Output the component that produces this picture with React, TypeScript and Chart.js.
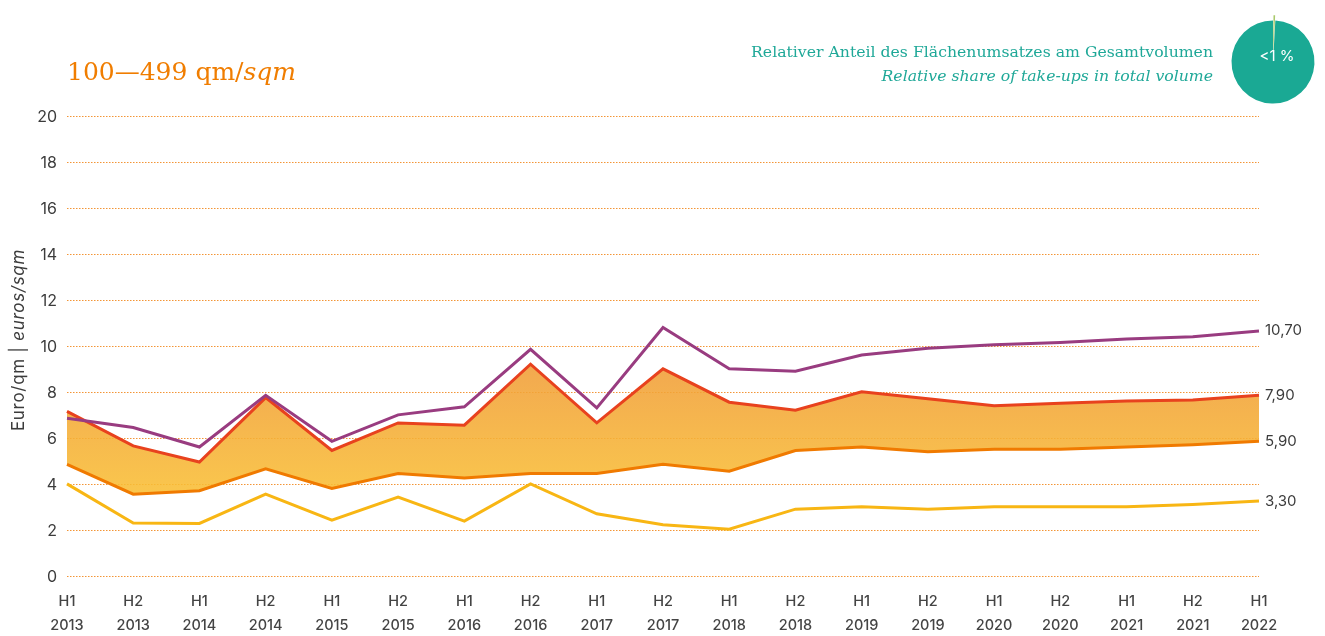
import React, { useEffect, useRef } from "react";
import { Chart, registerables } from "chart.js";

Chart.register(...registerables);

// ---- data ----
const halves = ["H1", "H2", "H1", "H2", "H1", "H2", "H1", "H2", "H1", "H2", "H1", "H2", "H1", "H2", "H1", "H2", "H1", "H2", "H1"];
const years = ["2013", "2013", "2014", "2014", "2015", "2015", "2016", "2016", "2017", "2017", "2018", "2018", "2019", "2019", "2020", "2020", "2021", "2021", "2022"];

const maxRent = [6.9, 6.5, 5.65, 7.9, 5.9, 7.05, 7.4, 9.9, 7.35, 10.85, 9.05, 8.95, 9.65, 9.95, 10.1, 10.2, 10.35, 10.45, 10.7];
const upperRent = [7.2, 5.7, 5.0, 7.8, 5.5, 6.7, 6.6, 9.25, 6.7, 9.05, 7.6, 7.25, 8.05, 7.75, 7.45, 7.55, 7.65, 7.7, 7.9];
const lowerRent = [4.9, 3.6, 3.75, 4.7, 3.85, 4.5, 4.3, 4.5, 4.5, 4.9, 4.6, 5.5, 5.65, 5.45, 5.55, 5.55, 5.65, 5.75, 5.9];
const minRent = [4.05, 2.35, 2.33, 3.6, 2.47, 3.47, 2.43, 4.05, 2.75, 2.27, 2.08, 2.95, 3.05, 2.95, 3.05, 3.05, 3.05, 3.15, 3.3];

const yTickValues = [0, 2, 4, 6, 8, 10, 12, 14, 16, 18, 20];
const endLabels = ["10,70", "7,90", "5,90", "3,30"];

const pieValues = [0.9, 99.1];
const pieLabel = "<1 %";

const SANS = "Inter, 'Noto Sans', sans-serif";
const SERIF = "'DejaVu Serif', serif";

const endLabelPlugin = {
  id: "endLabels",
  afterDatasetsDraw(chart: any) {
    const ctx = chart.ctx;
    ctx.save();
    ctx.font = `15px ${SANS}`;
    ctx.fillStyle = "#3c3c3c";
    ctx.textAlign = "left";
    ctx.textBaseline = "middle";
    chart.data.datasets.forEach((_ds: any, i: number) => {
      const meta = chart.getDatasetMeta(i);
      const pt = meta.data[meta.data.length - 1];
      if (pt) ctx.fillText(endLabels[i], pt.x + 6, pt.y);
    });
    ctx.restore();
  },
};

function bandFill(context: any) {
  const chart = context.chart;
  const area = chart.chartArea;
  if (!area) return "rgba(243,165,60,0.88)";
  const y = chart.scales.y;
  const g = chart.ctx.createLinearGradient(0, y.getPixelForValue(9.5), 0, y.getPixelForValue(3.5));
  g.addColorStop(0, "rgba(240,155,55,0.88)");
  g.addColorStop(1, "rgba(249,191,52,0.88)");
  return g;
}

export default function App() {
  const mainRef = useRef<HTMLCanvasElement | null>(null);
  const pieRef = useRef<HTMLCanvasElement | null>(null);

  useEffect(() => {
    if (!mainRef.current || !pieRef.current) return;
    const labels = halves.map((h, i) => [h, years[i]]);
    const lineBase = {
      pointRadius: 0,
      pointHoverRadius: 0,
      borderWidth: 3,
      tension: 0,
      borderJoinStyle: "miter" as const,
    };
    const chart = new Chart(mainRef.current, {
      type: "line",
      data: {
        labels,
        datasets: [
          { ...lineBase, label: "max", data: maxRent, borderColor: "#993c80", fill: false },
          { ...lineBase, label: "upper", data: upperRent, borderColor: "#e8421e", fill: "+1", backgroundColor: bandFill },
          { ...lineBase, label: "lower", data: lowerRent, borderColor: "#f07a00", fill: false },
          { ...lineBase, label: "min", data: minRent, borderColor: "#f8b614", fill: false },
        ],
      },
      options: {
        animation: false,
        responsive: false,
        maintainAspectRatio: false,
        layout: { padding: { left: 0, top: 117, right: 66, bottom: 0 } },
        plugins: {
          legend: { display: false },
          tooltip: { enabled: false },
          title: { display: false },
          filler: { drawTime: "beforeDatasetsDraw" },
        },
        scales: {
          x: {
            type: "category",
            offset: false,
            grid: { display: false, drawTicks: false },
            border: { display: false },
            ticks: {
              color: "#444444",
              font: { family: SANS, size: 14.5, weight: 500, lineHeight: 1.66 },
              padding: 13,
              maxRotation: 0,
              autoSkip: false,
            },
            afterFit: (s: any) => {
              s.height = 59;
            },
          },
          y: {
            min: 0,
            max: 20,
            afterBuildTicks: (s: any) => {
              s.ticks = yTickValues.map((v) => ({ value: v }));
            },
            grid: {
              color: "#f39536",
              lineWidth: 1.1,
              drawTicks: false,
            },
            border: { display: false, dash: [1.5, 1.5] },
            ticks: {
              color: "#3c3c3c",
              font: { family: SANS, size: 16 },
              padding: 10,
            },
            afterFit: (s: any) => {
              s.width = 67;
            },
          },
        },
      } as any,
      plugins: [endLabelPlugin],
    });

    const pie = new Chart(pieRef.current, {
      type: "pie",
      data: {
        labels: ["share", "rest"],
        datasets: [
          {
            data: pieValues,
            backgroundColor: ["#a9c96b", "#1aa994"],
            borderWidth: 0,
            offset: [11, 0],
          },
        ],
      },
      options: {
        animation: false,
        responsive: false,
        maintainAspectRatio: false,
        radius: 41.5,
        plugins: { legend: { display: false }, tooltip: { enabled: false } },
      } as any,
    });

    return () => {
      chart.destroy();
      pie.destroy();
    };
  }, []);

  return (
    <div style={{ position: "absolute", left: 0, top: 0, width: 1325, height: 636, background: "#ffffff", overflow: "hidden" }}>
      <canvas ref={mainRef} width={1325} height={636} style={{ position: "absolute", left: 0, top: 0, width: 1325, height: 636 }} />
      <div
        style={{
          position: "absolute",
          left: 67,
          top: 56,
          fontFamily: SERIF,
          fontSize: 25,
          lineHeight: "32px",
          color: "#f07d00",
          whiteSpace: "nowrap",
        }}
      >
        100—499 qm/<i>sqm</i>
      </div>
      <div
        style={{
          position: "absolute",
          right: 112,
          top: 40,
          textAlign: "right",
          fontFamily: SERIF,
          fontSize: 15.7,
          lineHeight: "24px",
          color: "#1fa898",
          whiteSpace: "nowrap",
        }}
      >
        <div>Relativer Anteil des Flächenumsatzes am Gesamtvolumen</div>
        <div style={{ fontStyle: "italic" }}>Relative share of take-ups in total volume</div>
      </div>
      <canvas ref={pieRef} width={120} height={120} style={{ position: "absolute", left: 1213, top: 2, width: 120, height: 120 }} />
      <div
        style={{
          position: "absolute",
          left: 1247,
          top: 46,
          width: 60,
          textAlign: "center",
          fontFamily: SANS,
          fontSize: 15,
          lineHeight: "20px",
          color: "#ffffff",
        }}
      >
        {pieLabel}
      </div>
      <div
        style={{
          position: "absolute",
          left: 18 - 120,
          top: 340 - 11,
          width: 240,
          height: 22,
          lineHeight: "22px",
          textAlign: "center",
          transform: "rotate(-90deg)",
          fontFamily: SANS,
          fontSize: 17,
          letterSpacing: 0.7,
          color: "#3c3c3c",
          whiteSpace: "nowrap",
        }}
      >
        Euro/qm | <i>euros/sqm</i>
      </div>
    </div>
  );
}
